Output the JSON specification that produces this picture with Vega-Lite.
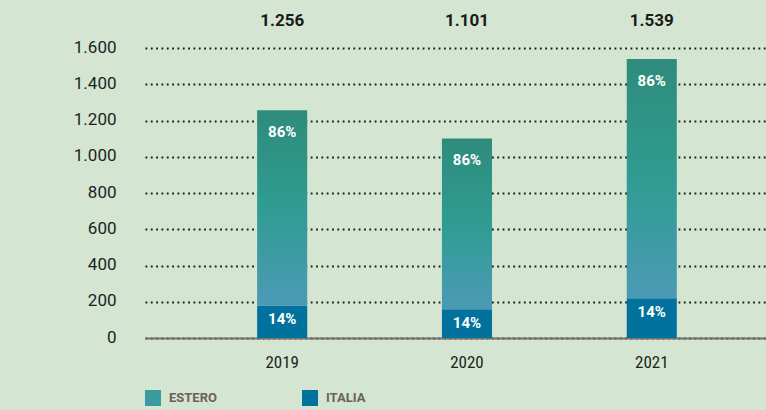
{
  "$schema": "https://vega.github.io/schema/vega-lite/v6.json",
  "autosize": {"type": "none"},
  "width": 621,
  "height": 319,
  "padding": {"left": 145, "top": 19, "right": 0, "bottom": 72},
  "background": "#d4e5d2",
  "config": {
    "view": {"stroke": null},
    "font": "Roboto",
    "axisY": {"title": null, "labelOverlap": false, "domain": false, "ticks": false, "labelPadding": 29, "labelOffset": -1, "labelFontSize": 17, "labelColor": "#1e1e1e", "labelFont": "Roboto", "grid": true, "gridColor": "#1a1a1a", "gridWidth": 1.8, "gridDash": [1.8, 3.53]},
    "locale": {"number": {"decimal": ",", "thousands": ".", "grouping": [3], "currency": ["€", ""]}}
  },
  "data": {"values": [
    {"anno": "2019", "serie": "ITALIA", "valore": 180, "pct": "14%", "ordine": 1, "totale": 1256},
    {"anno": "2019", "serie": "ESTERO", "valore": 1076, "pct": "86%", "ordine": 2, "totale": 1256},
    {"anno": "2020", "serie": "ITALIA", "valore": 158, "pct": "14%", "ordine": 1, "totale": 1101},
    {"anno": "2020", "serie": "ESTERO", "valore": 943, "pct": "86%", "ordine": 2, "totale": 1101},
    {"anno": "2021", "serie": "ITALIA", "valore": 219, "pct": "14%", "ordine": 1, "totale": 1539},
    {"anno": "2021", "serie": "ESTERO", "valore": 1320, "pct": "86%", "ordine": 2, "totale": 1539}
  ]},
  "transform": [
    {"stack": "valore", "groupby": ["anno"], "sort": [{"field": "ordine", "order": "ascending"}], "as": ["v0", "v1"]}
  ],
  "encoding": {
    "x": {
      "field": "anno", "type": "ordinal",
      "scale": {"paddingInner": 0.729, "paddingOuter": 0.5447, "align": 0.557},
      "axis": {"title": null, "labelAngle": 0, "ticks": false, "labelPadding": 16, "labelFontSize": 17, "labelColor": "#1e1e1e", "labelFont": "Liberation Sans Narrow, Roboto Condensed, Roboto", "domainColor": "#76716a", "domainWidth": 2, "grid": false}
    }
  },
  "layer": [
    {
      "mark": {"type": "bar"},
      "encoding": {
        "y": {
          "field": "v0", "type": "quantitative",
          "scale": {"domain": [0, 1760], "nice": false},
          "axis": {"values": [0, 200, 400, 600, 800, 1000, 1200, 1400, 1600], "format": ",.0f"}
        },
        "y2": {"field": "v1"},
        "color": {
          "field": "serie", "type": "nominal",
          "scale": {"domain": ["ESTERO", "ITALIA"], "range": ["#3a9aa0", "#00729d"]},
          "condition": {"test": "datum.serie === 'ESTERO'", "value": {"gradient": "linear", "x1": 0, "y1": 0, "x2": 0, "y2": 1, "stops": [{"offset": 0, "color": "#2f8b7c"}, {"offset": 0.5, "color": "#2f9c92"}, {"offset": 1, "color": "#4c9ab6"}]}},
          "legend": {
            "title": null, "orient": "bottom", "direction": "horizontal", "symbolType": "square", "symbolSize": 256, "symbolStrokeWidth": 0,
            "labelFont": "Liberation Sans Narrow, Roboto", "labelFontWeight": "bold", "labelFontSize": 13, "labelColor": "#6b6159", "labelOffset": 8,
            "columnPadding": 85, "offset": 20, "padding": 0,
            "encode": {"symbols": {"update": {"fill": [{"test": "datum.label === 'ESTERO'", "value": {"gradient": "linear", "x1": 0, "y1": 0, "x2": 0, "y2": 1, "stops": [{"offset": 0, "color": "#2f9c92"}, {"offset": 1, "color": "#4c9ab6"}]}}, {"value": "#00729d"}], "stroke": {"value": "transparent"}}}}
          }
        }
      }
    },
    {
      "transform": [{"filter": "datum.serie === 'ESTERO'"}],
      "mark": {"type": "text", "color": "white", "fontSize": 15, "fontWeight": "bold", "font": "Roboto", "baseline": "middle", "dy": 22},
      "encoding": {"y": {"field": "v1", "type": "quantitative", "axis": {"values": [0, 200, 400, 600, 800, 1000, 1200, 1400, 1600], "format": ",.0f"}}, "text": {"field": "pct"}}
    },
    {
      "transform": [{"filter": "datum.serie === 'ITALIA'"}],
      "mark": {"type": "text", "color": "white", "fontSize": 15, "fontWeight": "bold", "font": "Roboto", "baseline": "middle", "dy": 14},
      "encoding": {"y": {"field": "v1", "type": "quantitative", "axis": {"values": [0, 200, 400, 600, 800, 1000, 1200, 1400, 1600], "format": ",.0f"}}, "text": {"field": "pct"}}
    },
    {
      "transform": [{"filter": "datum.serie === 'ESTERO'"}],
      "mark": {"type": "text", "color": "#1a1a1a", "fontSize": 17, "fontWeight": "bold", "font": "Roboto", "baseline": "middle"},
      "encoding": {"y": {"datum": 1749, "type": "quantitative", "axis": {"values": [0, 200, 400, 600, 800, 1000, 1200, 1400, 1600], "format": ",.0f"}}, "text": {"field": "totale", "type": "quantitative", "format": ",.0f"}}
    }
  ]
}
